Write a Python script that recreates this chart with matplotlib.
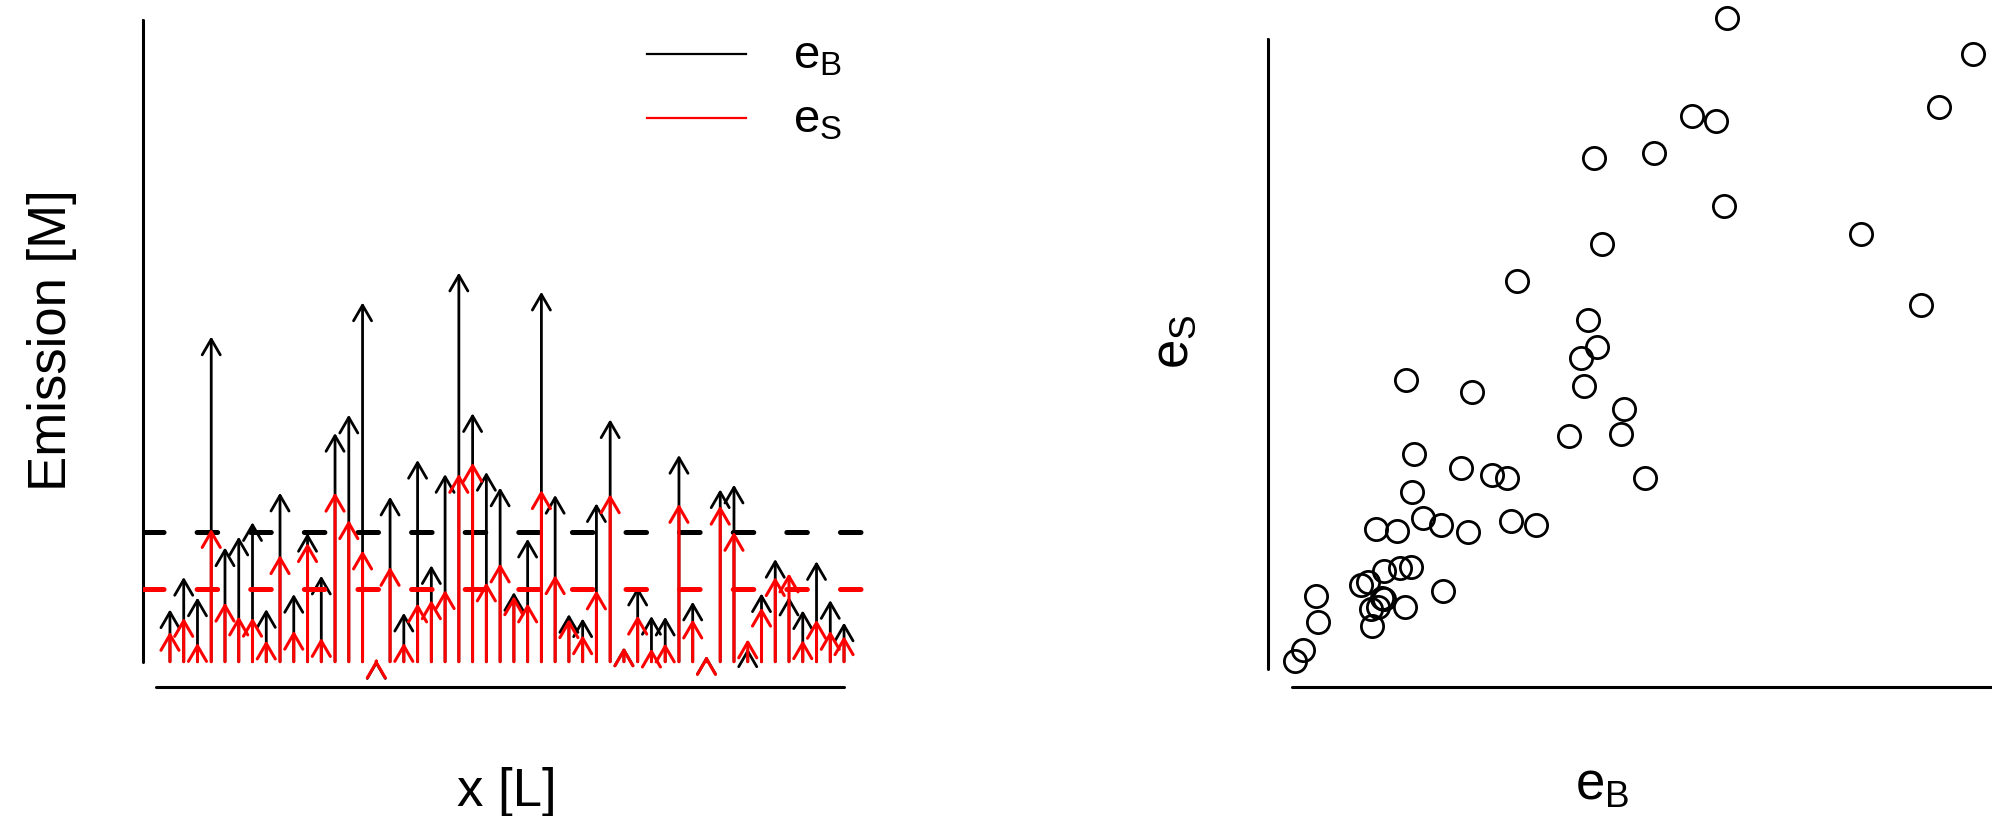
import numpy as np
import matplotlib
matplotlib.use("Agg")
import matplotlib.pyplot as plt
from matplotlib.lines import Line2D

plt.rcParams["font.family"] = ["Liberation Sans", "DejaVu Sans"]
plt.rcParams["mathtext.fontset"] = "custom"
plt.rcParams["mathtext.rm"] = "Liberation Sans"
plt.rcParams["lines.scale_dashes"] = False

# Emission at each site along x: background (e_B) and source (e_S)
site = np.arange(1, 51)
e_B = [3.26, 5.28, 4.00, 20.26, 7.12, 7.79, 8.69, 3.28, 10.53, 4.22,
       8.02, 5.36, 14.25, 15.39, 22.38, 0.10, 10.28, 3.05, 12.57, 6.01,
       11.69, 24.24, 15.48, 11.82, 10.85, 4.34, 7.66, 23.05, 10.39, 2.97,
       2.70, 9.87, 15.10, 0.90, 4.67, 2.85, 2.80, 12.88, 3.74, 0.37,
       10.74, 11.03, 0.83, 4.26, 6.40, 4.05, 3.20, 6.26, 3.84, 2.44]
e_S = [1.87, 2.74, 1.18, 8.28, 3.69, 2.83, 2.75, 1.33, 6.65, 1.94,
       7.40, 1.49, 10.54, 8.83, 6.94, 0.15, 5.92, 1.18, 3.64, 3.84,
       4.47, 11.71, 12.40, 4.95, 6.13, 4.09, 3.64, 10.70, 5.40, 2.66,
       1.66, 4.45, 10.44, 0.90, 2.88, 0.83, 1.15, 9.84, 2.64, 0.37,
       9.73, 8.10, 1.40, 3.38, 5.28, 5.51, 1.35, 2.62, 1.93, 1.60]
labels = [r"$\mathregular{e_B}$", r"$\mathregular{e_S}$"]

W, H = 1992, 816
fig = plt.figure(figsize=(W / 100, H / 100), dpi=100)


def px_axes(left, right, top, bottom):
    return fig.add_axes([left / W, 1 - bottom / H, (right - left) / W, (bottom - top) / H])


def padded(lo, hi):
    pad = 0.04 * (hi - lo)
    return lo - pad, hi + pad


def style_axes(ax, xbounds, ybounds, xticks, yticks):
    for side in ("top", "right"):
        ax.spines[side].set_visible(False)
    for side in ("left", "bottom"):
        ax.spines[side].set_linewidth(2.2)
        ax.spines[side].set_capstyle("round")
    ax.spines["bottom"].set_bounds(*xbounds)
    ax.spines["left"].set_bounds(*ybounds)
    ax.set_xticks(xticks)
    ax.set_yticks(yticks)
    ax.tick_params(labelbottom=False, labelleft=False, length=1.0, width=1.2,
                   direction="out")
    ax.patch.set_visible(False)


# ---- left panel: emission arrows along x ----
ax1 = px_axes(143, 871, -6, 687.4)
ax1.set_xlim(padded(1, 50))
ax1.set_ylim(padded(0, 40))
style_axes(ax1, (0, 50), (0, 40), np.arange(0, 51, 10), np.arange(0, 41, 10))

head = "->,head_length=11.2,head_width=6.5"


def draw_arrows(values, color, lw, z):
    for xi, v in zip(site, values):
        ax1.annotate("", xy=(xi, v), xytext=(xi, 0),
                     arrowprops=dict(arrowstyle=head, color=color, lw=lw,
                                     shrinkA=0, shrinkB=0, mutation_scale=1,
                                     capstyle="round", joinstyle="round"),
                     zorder=z, annotation_clip=False)


dash = (0, (14.8, 23.8))
draw_arrows(e_B, "black", 2.0, 2)
ax1.axhline(np.mean(e_B), color="black", lw=3.6, linestyle=dash,
            dash_capstyle="round", zorder=3)
draw_arrows(e_S, "red", 2.2, 4)
ax1.axhline(np.mean(e_S), color="red", lw=3.6, linestyle=dash,
            dash_capstyle="round", zorder=5)

handles = [Line2D([], [], color="black", lw=1.6), Line2D([], [], color="red", lw=1.6)]
ax1.legend(handles, labels, loc="upper left",
           bbox_to_anchor=(646.7 / W, 1 - 35 / H), bbox_transform=fig.transFigure,
           frameon=False, fontsize=34, handlelength=2.1, handletextpad=1.0,
           handleheight=0.5, labelspacing=0.42, borderpad=0, borderaxespad=0)

fig.text(507 / W, 1 - 806 / H, "x [L]", ha="center", va="baseline", fontsize=38)
fig.text(66 / W, 1 - 340 / H, "Emission [M]", rotation=90, rotation_mode="anchor",
         ha="center", va="baseline", fontsize=38)

# ---- right panel: e_S against e_B ----
ax2 = px_axes(1268, 2000, -7.6, 687)
ax2.set_xlim(padded(min(e_B), max(e_B)))
ax2.set_ylim(padded(min(e_S), max(e_S)))
style_axes(ax2, (0, 25), (0, 12), np.arange(0, 26, 5), np.arange(0, 13, 2))
ax2.plot(e_B, e_S, linestyle="none", marker="o", ms=16.0, mfc="none",
         mec="black", mew=2.0, clip_on=False)

fig.text(1602 / W, 1 - 800 / H, labels[0], ha="center", va="baseline", fontsize=38)
fig.text(1188 / W, 1 - 342 / H, labels[1], rotation=90, rotation_mode="anchor",
         ha="center", va="baseline", fontsize=38)

fig.savefig("out.png", dpi=100)
